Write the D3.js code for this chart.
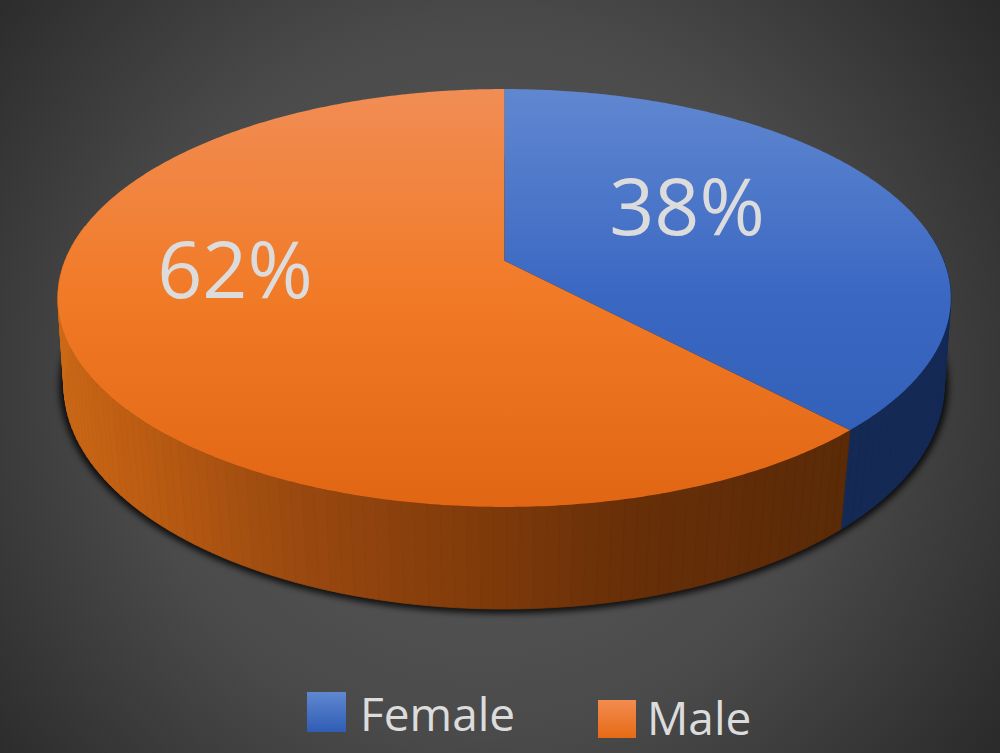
<!DOCTYPE html>
<html>
<head>
<meta charset="utf-8">
<title>Gender split</title>
<script src="https://cdn.jsdelivr.net/npm/d3@7"></script>
<style>
  html, body { margin: 0; padding: 0; background: #333; overflow: hidden; }
  svg { display: block; }
  text { font-family: "Open Sans", sans-serif; fill: #dcdcdc; }
</style>
</head>
<body>
<script>
// Data
const categories = ["Female", "Male"];
const shares = [38, 62];

// Colours
const topStops = [
  ["#6087d0", "#3a67c2", "#2f5cb2"],
  ["#f18d55", "#f17a26", "#e16614"]
];
const swatchStops = [
  ["#6088d0", "#2f5db5"],
  ["#f38c50", "#e66a15"]
];
const femaleSide = "#142a55";

const width = 1000;
const height = 753;

// Perspective discs for the top and bottom of the cylinder
const topDisc = { cx: 504.3, cy: 260.7, r: 439.3, h: 202.3, p: 0.1785 };
const bottomDisc = { cx: 504, cy: 349.5, r: 434.4, h: 218, p: 0.16 };

function project(disc, angle) {
  const u = Math.sin(angle);
  const v = -Math.cos(angle);
  const s = 1 / (1 - disc.p * v);
  return [disc.cx + disc.r * u * s, disc.cy + disc.h * v * s];
}

function angles(a0, a1, step) {
  const list = d3.range(a0, a1, step);
  list.push(a1);
  return list;
}

const line = d3.line();
const svg = d3.select("body").append("svg")
  .attr("width", width)
  .attr("height", height);
const defs = svg.append("defs");

// Background
const bg = defs.append("radialGradient")
  .attr("id", "bg")
  .attr("gradientUnits", "userSpaceOnUse")
  .attr("cx", 485).attr("cy", 380).attr("r", 650);
bg.append("stop").attr("offset", 0).attr("stop-color", "#5c5c5c");
bg.append("stop").attr("offset", 0.55).attr("stop-color", "#4a4a4a");
bg.append("stop").attr("offset", 1).attr("stop-color", "#282828");
svg.append("rect").attr("width", width).attr("height", height).attr("fill", "url(#bg)");

// Gradients for the top face and the legend
categories.forEach((name, i) => {
  const g = defs.append("linearGradient")
    .attr("id", "top" + i)
    .attr("gradientUnits", "userSpaceOnUse")
    .attr("x1", 0).attr("x2", 0).attr("y1", 89).attr("y2", 507);
  topStops[i].forEach((c, k) => {
    g.append("stop").attr("offset", k / 2).attr("stop-color", c);
  });
  const s = defs.append("linearGradient")
    .attr("id", "swatch" + i)
    .attr("x1", 0).attr("x2", 0).attr("y1", 0).attr("y2", 1);
  swatchStops[i].forEach((c, k) => {
    s.append("stop").attr("offset", k).attr("stop-color", c);
  });
});

const blur = defs.append("filter")
  .attr("id", "shadow")
  .attr("x", "-10%").attr("y", "-10%")
  .attr("width", "120%").attr("height", "120%");
blur.append("feGaussianBlur").attr("stdDeviation", 3);

const pie = d3.pie().sort(null);
const slices = pie(shares);
const TAU = Math.PI * 2;

// Shadow under the cylinder
svg.append("path")
  .attr("d", line(angles(0, TAU, 0.02).map((a) => project(bottomDisc, a))) + "Z")
  .attr("fill", "#000")
  .attr("stroke", "#000")
  .attr("stroke-width", 9)
  .attr("opacity", 0.8)
  .attr("filter", "url(#shadow)");

// Side wall: narrow strips, shaded left to right on the Male slice
// only the front of the wall is drawn, the back would peek out round the rim
const sideColor = d3.scaleLinear()
  .domain([57, 120, 300, 500, 640, 850])
  .range(["#cc6a18", "#c26013", "#9b4a10", "#7e390a", "#672f08", "#5a2a07"]);
const strips = [];
slices.forEach((slice, i) => {
  const list = angles(slice.startAngle, slice.endAngle, 0.025);
  for (let k = 0; k < list.length - 1; k++) {
    if (Math.cos(list[k]) < 0.15) {
      strips.push({ i, a0: list[k], a1: list[k + 1] });
    }
  }
});
svg.append("g").selectAll("path")
  .data(strips)
  .join("path")
  .attr("d", (d) => line([
    project(topDisc, d.a0),
    project(topDisc, d.a1),
    project(bottomDisc, d.a1),
    project(bottomDisc, d.a0)
  ]) + "Z")
  .attr("fill", (d) => d.i === 0 ? femaleSide : sideColor(project(bottomDisc, d.a0)[0]))
  .attr("stroke", (d) => d.i === 0 ? femaleSide : sideColor(project(bottomDisc, d.a0)[0]))
  .attr("stroke-width", 0.8);

// Top face
svg.append("g").selectAll("path")
  .data(slices)
  .join("path")
  .attr("d", (d) => {
    const rim = angles(d.startAngle, d.endAngle, 0.01).map((a) => project(topDisc, a));
    return line([[topDisc.cx, topDisc.cy], ...rim]) + "Z";
  })
  .attr("fill", (d, i) => `url(#top${i})`);

// Percent labels
const labelPos = [[687, 235], [235, 298]];
svg.append("g").selectAll("text")
  .data(shares)
  .join("text")
  .attr("x", (d, i) => labelPos[i][0])
  .attr("y", (d, i) => labelPos[i][1])
  .attr("text-anchor", "middle")
  .attr("font-size", 79)
  .text((d) => d + "%");

// Legend
const legendBox = [
  { x: 307, y: 692, w: 39, h: 40, tx: 360, ty: 731 },
  { x: 598, y: 700, w: 38, h: 38, tx: 647, ty: 735 }
];
const legend = svg.append("g").selectAll("g")
  .data(categories)
  .join("g");
legend.append("rect")
  .attr("x", (d, i) => legendBox[i].x)
  .attr("y", (d, i) => legendBox[i].y)
  .attr("width", (d, i) => legendBox[i].w)
  .attr("height", (d, i) => legendBox[i].h)
  .attr("fill", (d, i) => `url(#swatch${i})`);
legend.append("text")
  .attr("x", (d, i) => legendBox[i].tx)
  .attr("y", (d, i) => legendBox[i].ty)
  .attr("font-size", 46)
  .text((d) => d);
</script>
</body>
</html>
